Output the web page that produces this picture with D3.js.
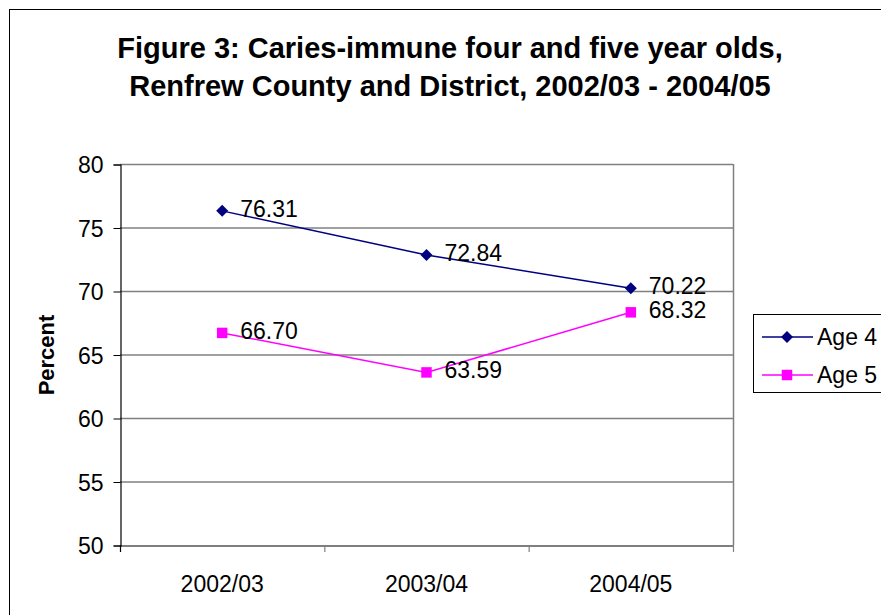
<!DOCTYPE html>
<html>
<head>
<meta charset="utf-8">
<script src="https://cdn.jsdelivr.net/npm/d3@7"></script>
<style>
  html, body { margin: 0; padding: 0; background: #fff; }
  svg { display: block; font-family: Arial, "Liberation Sans", sans-serif; }
</style>
</head>
<body>
<svg id="chart" width="881" height="615"></svg>
<script>
// Caries-immune children by school year
const years = ["2002/03", "2003/04", "2004/05"];
const age4 = [76.31, 72.84, 70.22];
const age5 = [66.70, 63.59, 68.32];
const seriesNames = ["Age 4", "Age 5"];
const yTicks = [50, 55, 60, 65, 70, 75, 80];
const titleLines = [
  "Figure 3: Caries-immune four and five year olds,",
  "Renfrew County and District, 2002/03 - 2004/05"
];

const svg = d3.select("#chart");

// outer chart frame
svg.append("rect")
  .attr("x", 9.5).attr("y", 9.5)
  .attr("width", 1000).attr("height", 1000)
  .attr("fill", "#fff").attr("stroke", "#000").attr("stroke-width", 1);

// title
svg.append("g").selectAll("text").data(titleLines).join("text")
  .attr("x", 450)
  .attr("y", (d, i) => 58 + i * 38)
  .attr("text-anchor", "middle")
  .attr("font-size", 29)
  .attr("font-weight", "bold")
  .text(d => d);

const plot = { left: 120, right: 733, top: 164, bottom: 545 };

const x = d3.scaleBand().domain(years).range([plot.left, plot.right]);
const y = d3.scaleLinear().domain([50, 80]).range([plot.bottom, plot.top]);
const cx = d => x(d) + x.bandwidth() / 2;

// gridlines
svg.append("g").selectAll("line").data(yTicks.filter(t => t > 50)).join("line")
  .attr("x1", plot.left).attr("x2", plot.right)
  .attr("y1", d => y(d) + 0.5).attr("y2", d => y(d) + 0.5)
  .attr("stroke", "#808080").attr("stroke-width", 1.5);

// right edge of plot area
svg.append("line")
  .attr("x1", plot.right + 0.5).attr("x2", plot.right + 0.5)
  .attr("y1", plot.top).attr("y2", plot.bottom)
  .attr("stroke", "#808080").attr("stroke-width", 1.5);

// y axis
const yAxis = svg.append("g")
  .attr("transform", `translate(${plot.left + 0.5},0.5)`)
  .call(d3.axisLeft(y).tickValues(yTicks).tickSize(7).tickPadding(10).tickFormat(d3.format("d")));
yAxis.select(".domain").attr("stroke", "#000").attr("stroke-width", 1.2);
yAxis.selectAll(".tick line").attr("stroke", "#000");
yAxis.selectAll(".tick text")
  .attr("font-size", 23).attr("font-family", "Arial, 'Liberation Sans', sans-serif")
  .attr("fill", "#000").attr("dy", "0.35em");

// x axis
const xAxis = svg.append("g")
  .attr("transform", `translate(0,${plot.bottom + 0.5})`)
  .call(d3.axisBottom(x).tickSize(0).tickPadding(30));
xAxis.select(".domain").attr("stroke", "#000").attr("stroke-width", 1.2);
xAxis.selectAll(".tick text")
  .attr("font-size", 23).attr("font-family", "Arial, 'Liberation Sans', sans-serif")
  .attr("fill", "#000");

// category boundary ticks
const bounds = years.map(d => x(d)).concat([plot.right]);
svg.append("g").selectAll("line").data(bounds).join("line")
  .attr("x1", d => d + 0.5).attr("x2", d => d + 0.5)
  .attr("y1", plot.bottom).attr("y2", plot.bottom + 7)
  .attr("stroke", (d, i) => i === 0 ? "#000" : "#808080").attr("stroke-width", 1.2);

// y axis title
svg.append("text")
  .attr("transform", "translate(54,355) rotate(-90)")
  .attr("text-anchor", "middle")
  .attr("font-size", 22)
  .attr("font-weight", "bold")
  .text("Percent");

const series = [
  { name: seriesNames[0], values: age4, color: "#000080", shape: d3.symbolSquare, size: 72, rotate: 45 },
  { name: seriesNames[1], values: age5, color: "#FF00FF", shape: d3.symbolSquare, size: 110, rotate: 0 }
];

const line = d3.line().x((d, i) => cx(years[i])).y(d => y(d));

series.forEach(s => {
  const g = svg.append("g");
  g.append("path")
    .attr("d", line(s.values))
    .attr("fill", "none")
    .attr("stroke", s.color)
    .attr("stroke-width", 1.5);
  g.selectAll("path.m").data(s.values).join("path")
    .attr("class", "m")
    .attr("transform", (d, i) => `translate(${cx(years[i])},${y(d)}) rotate(${s.rotate})`)
    .attr("d", d3.symbol().type(s.shape).size(s.size))
    .attr("fill", s.color);
  g.selectAll("text").data(s.values).join("text")
    .attr("x", (d, i) => cx(years[i]) + 18)
    .attr("y", d => y(d) + 6)
    .attr("font-size", 23)
    .attr("fill", "#000")
    .text(d => d.toFixed(2));
});

// legend
const legend = svg.append("g");
legend.append("rect")
  .attr("x", 753.5).attr("y", 314.5)
  .attr("width", 200).attr("height", 78)
  .attr("fill", "#fff").attr("stroke", "#000").attr("stroke-width", 1);
series.forEach((s, i) => {
  const ly = 337 + i * 38;
  legend.append("line")
    .attr("x1", 762).attr("x2", 813)
    .attr("y1", ly).attr("y2", ly)
    .attr("stroke", s.color).attr("stroke-width", 1.5);
  legend.append("path")
    .attr("transform", `translate(787,${ly}) rotate(${s.rotate})`)
    .attr("d", d3.symbol().type(s.shape).size(s.size))
    .attr("fill", s.color);
  legend.append("text")
    .attr("x", 817).attr("y", ly + 8)
    .attr("font-size", 23)
    .text(s.name);
});
</script>
</body>
</html>
